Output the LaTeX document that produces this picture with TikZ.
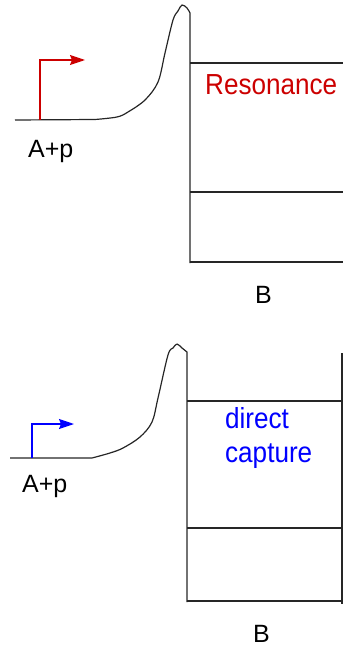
\documentclass[tikz,border=0pt]{standalone}
\usepackage{fontspec}
\setmainfont{Liberation Sans}
\usetikzlibrary{arrows.meta}
\definecolor{resred}{RGB}{204,0,0}
\definecolor{capblue}{RGB}{0,0,255}
\begin{document}
\begin{tikzpicture}[x=1pt,y=-1pt,
  wall/.style={draw=black!85, line width=1.2pt, line join=round},
  lbl/.style={inner sep=0pt, anchor=base west, font=\fontsize{25}{25}\selectfont},
  big/.style={inner sep=0pt, anchor=base west, font=\fontsize{29}{34}\selectfont, xscale=0.9},
  inarrow/.style={line width=1.3pt, -{Stealth[length=15pt,width=10pt,inset=2pt]}}]
\useasboundingbox (0,0) rectangle (343,647);
% ---------- top panel ----------
\draw[wall] (15,120) -- plot[smooth, tension=0.55] coordinates {(95,119.5) (117,117) (128,112) (145,100) (158,82) (165,53) (173,20) (178,11) (182,5) (187,8) (190,13)} -- (190,263);
\draw[wall] (190,63) -- (343,63);
\draw[wall] (190,192) -- (343,192);
\draw[wall] (190,262) -- (343,262);
\coordinate (s1) at (40,120);
\coordinate (c1) at (40,60);
\coordinate (t1) at (85,60);
\draw[inarrow, resred] (s1) -- (c1) -- (t1);
\node[lbl] (ap1) at (28,158) {A+p};
\node[big, text=resred] (res) at (205,95) {Resonance};
\node[lbl] (b1) at (255,303) {B};
% ---------- bottom panel ----------
\draw[wall] (10,458) -- plot[smooth, tension=0.55] coordinates {(92,458) (110,453) (123,448) (140,437) (152,422) (158,398) (168,355) (173,348) (177,344) (182,348) (187,352)} -- (187,602);
\draw[wall] (187,401) -- (342,401);
\draw[wall] (187,528) -- (342,528);
\draw[wall] (187,601) -- (342,601);
\draw[wall] (342,353) -- (342,604);
\coordinate (s2) at (32,458);
\coordinate (c2) at (32,424);
\coordinate (t2) at (74,424);
\draw[inarrow, capblue] (s2) -- (c2) -- (t2);
\node[lbl] (ap2) at (22,492) {A+p};
\node[big, text=capblue] (dc1) at (225,428) {direct};
\node[big, text=capblue] (dc2) at (225,462) {capture};
\node[lbl] (b2) at (253,642) {B};
\end{tikzpicture}
\end{document}
